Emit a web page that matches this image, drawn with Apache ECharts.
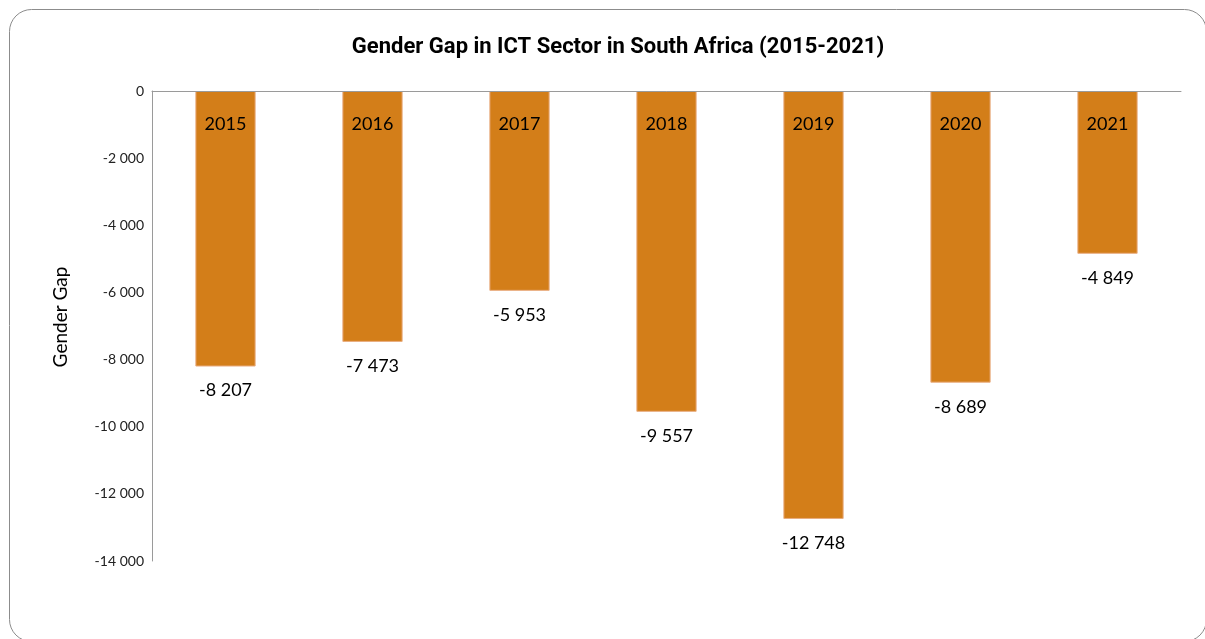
<!DOCTYPE html>
<html>
<head>
<meta charset="utf-8">
<script src="https://cdn.jsdelivr.net/npm/echarts@6/dist/echarts.min.js"></script>
<style>
  html, body { margin: 0; padding: 0; background: #fff; }
  #chart { width: 1205px; height: 639px; }
</style>
</head>
<body>
<div id="chart"></div>
<script>
// Gender gap (women minus men employed) in the ICT sector, by year
const years = ['2015', '2016', '2017', '2018', '2019', '2020', '2021'];
const genderGap = [-8207, -7473, -5953, -9557, -12748, -8689, -4849];
const yTicks = { min: -14000, max: 0, step: 2000 };

function spaced(v) {
  const s = Math.abs(Math.round(v)).toString().replace(/\B(?=(\d{3})+(?!\d))/g, ' ');
  return (v < 0 ? '-' : '') + s;
}

const chart = echarts.init(document.getElementById('chart'), null, { renderer: 'canvas' });
chart.setOption({
  backgroundColor: '#ffffff',
  animation: false,
  graphic: [{
    type: 'rect',
    left: 7, top: 7,
    shape: { width: 1197, height: 632, r: 22 },
    style: { fill: 'none', stroke: '#8c8c8c', lineWidth: 1 },
    silent: true,
    z: -1
  }],
  title: {
    text: 'Gender Gap in ICT Sector in South Africa (2015-2021)',
    left: 613,
    textAlign: 'center',
    top: 31,
    textStyle: { fontFamily: 'Roboto', fontWeight: 'bold', fontSize: 22, color: '#000' }
  },
  grid: { left: 152, right: 24, top: 91, bottom: 78, containLabel: false },
  xAxis: {
    type: 'category',
    data: years,
    position: 'top',
    z: 10,
    axisLine: { onZero: false, lineStyle: { color: '#9a9a9a', width: 1 } },
    axisTick: { show: false },
    axisLabel: { inside: true, margin: 24, fontFamily: 'Lato', fontSize: 18, color: '#000' }
  },
  yAxis: {
    type: 'value',
    min: yTicks.min,
    max: yTicks.max,
    interval: yTicks.step,
    name: 'Gender Gap',
    nameLocation: 'middle',
    nameGap: 82,
    nameRotate: 90,
    nameTextStyle: { fontFamily: 'Lato', fontSize: 19, color: '#000', padding: [0, 0, 0, 18] },
    axisLine: { show: true, lineStyle: { color: '#9a9a9a', width: 1 } },
    axisTick: { show: false },
    splitLine: { show: false },
    axisLabel: {
      margin: 8,
      fontFamily: 'Lato', fontSize: 14, color: '#222',
      formatter: spaced
    }
  },
  series: [{
    type: 'bar',
    data: genderGap,
    barWidth: '41%',
    itemStyle: { color: '#d37e19', borderColor: '#e9ad80', borderWidth: 1 },
    label: {
      show: true,
      position: 'bottom',
      distance: 15,
      fontFamily: 'Lato', fontSize: 18, color: '#000',
      formatter: p => spaced(p.value)
    }
  }]
});
</script>
</body>
</html>
